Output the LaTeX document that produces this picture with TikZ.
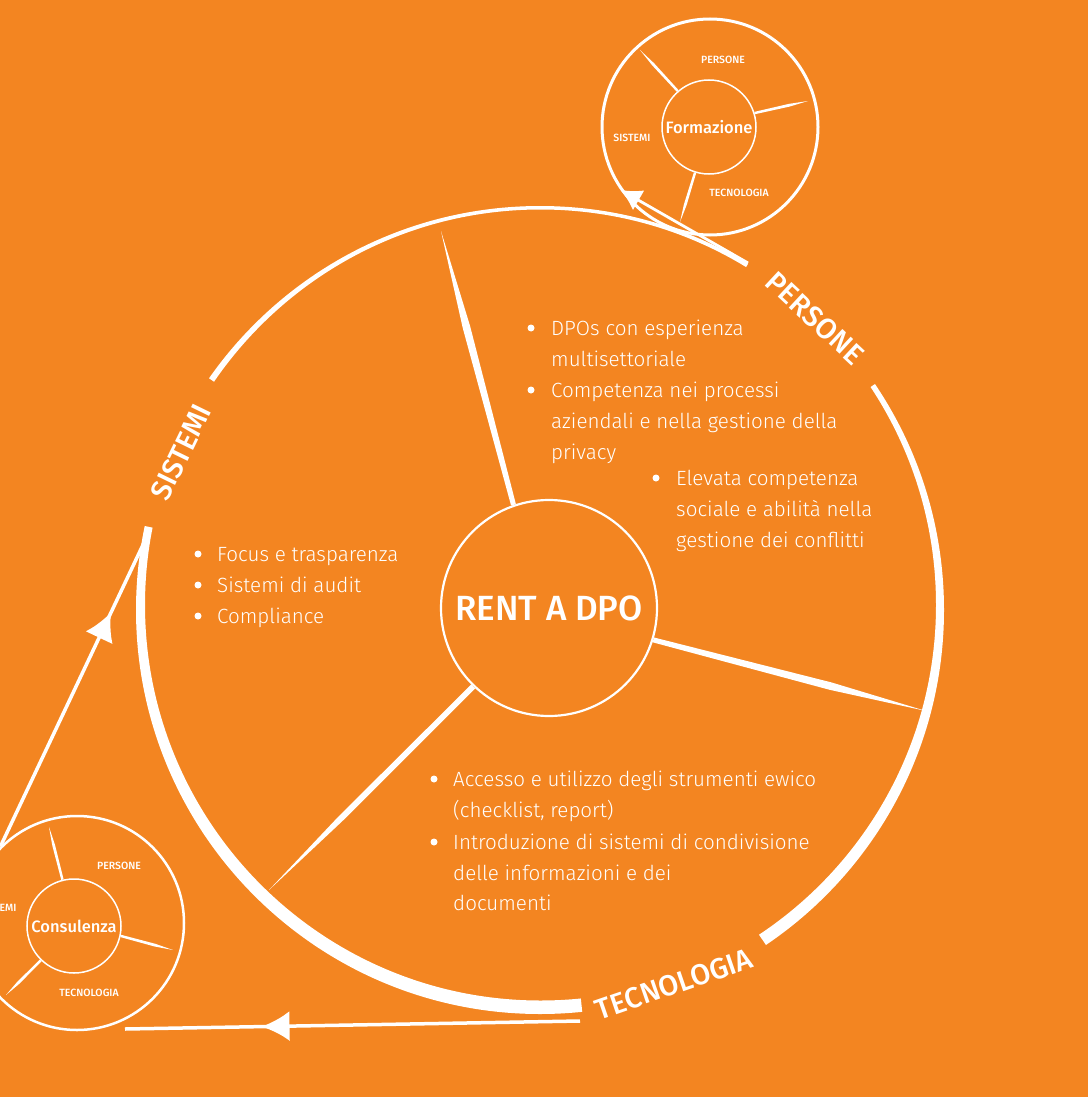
\documentclass[tikz,border=0pt]{standalone}
\usepackage{fontspec}
\setmainfont{Fira Sans}
\newfontfamily\lightfont{Fira Sans Light}
\newfontfamily\medfont{Fira Sans Medium}
\usetikzlibrary{calc,arrows.meta,decorations.markings}
\definecolor{bg}{HTML}{F38521}
\newcommand{\mytaper}[4]{%
  \coordinate (tpm) at ($(#1)!0.65!(#2)$);
  \fill[white] ($(#1)!#3!90:(#2)$) -- ($(tpm)!#4!90:(#2)$) -- (#2) -- ($(tpm)!#4!-90:(#2)$) -- ($(#1)!#3!-90:(#2)$) -- cycle;}
\begin{document}
\begin{tikzpicture}[x=1pt,y=-1pt,
  ring/.style={circle, draw=white, inner sep=0pt, text=white},
  arclabel/.style={text=white, font=\medfont\fontsize{29}{29}\selectfont, inner sep=0pt},
  smalllab/.style={text=white, font=\medfont\fontsize{10.5}{10.5}\selectfont, inner sep=0pt},
  body/.style={text=white, font=\lightfont\fontsize{20.6}{20.6}\selectfont, anchor=base west, inner sep=0pt},
  flow/.style={draw=white, line width=3.5pt},
  midarrow/.style={postaction=decorate, decoration={markings, mark=at position #1 with {\arrow{Latex[length=28pt,width=30pt]}}}}
]
\useasboundingbox (0,0) rectangle (1088,1097);
\clip (0,0) rectangle (1088,1097);
\fill[bg] (0,0) rectangle (1088,1097);

% main ring with three gaps
\begin{scope}[shift={(540,610)}]
  \clip (0,0) -- (84:700) -- (138:700) -- (192:700) -- cycle
        (0,0) -- (215:700) -- (258:700) -- (301:700) -- cycle
        (0,0) -- (326:700) -- (371:700) -- (416:700) -- cycle;
  \fill[white, even odd rule] (0,0) circle[radius=404] (0.5,-5) circle[radius=395.5];
\end{scope}

% ring labels
\node[arclabel, rotate=64] (lsis) at (181,452) {SISTEMI};
\node[arclabel, rotate=-43] (lper) at (815,318) {PERSONE};
\node[arclabel, rotate=19] (ltec) at (674,984) {TECNOLOGIA};

% centre
\node[ring, minimum size=216pt, line width=2.2pt, font=\medfont\fontsize{35}{35}\selectfont] (rent) at (549,608) {RENT A DPO};
\coordinate (s1) at (441,231);
\coordinate (s2) at (926,711);
\coordinate (s3) at (269,890);
\mytaper{rent.109}{s1}{2.5pt}{3.8pt}
\mytaper{rent.-17}{s2}{2.5pt}{3.8pt}
\mytaper{rent.-134}{s3}{2.8pt}{3pt}

% Formazione
\node[ring, minimum size=216pt, line width=3pt] (formO) at (710,127) {};
\node[ring, minimum size=94pt, line width=1.5pt, font=\medfont\fontsize{16.5}{16.5}\selectfont] (form) at (709,127) {Formazione};
\coordinate (f1) at (640,50);
\coordinate (f2) at (808,101);
\coordinate (f3) at (680,222);
\mytaper{form.131}{f1}{1.2pt}{1.4pt}
\mytaper{form.17}{f2}{1.2pt}{1.4pt}
\mytaper{form.-107}{f3}{1.2pt}{1.4pt}
\node[smalllab] (fper) at (723,60) {PERSONE};
\node[smalllab] (fsis) at (632,138) {SISTEMI};
\node[smalllab] (ftec) at (739,193) {TECNOLOGIA};

% Consulenza
\node[ring, minimum size=214pt, line width=2.5pt] (consO) at (77,923) {};
\node[ring, minimum size=94pt, line width=1.5pt, font=\medfont\fontsize{16.5}{16.5}\selectfont] (cons) at (74,926) {Consulenza};
\coordinate (c1) at (49,827);
\coordinate (c2) at (173,950);
\coordinate (c3) at (6,995);
\mytaper{cons.104}{c1}{1.2pt}{1.4pt}
\mytaper{cons.-12}{c2}{1.2pt}{1.4pt}
\mytaper{cons.-134}{c3}{1.2pt}{1.4pt}
\node[smalllab] (cper) at (119,866) {PERSONE};
\node[smalllab] (csis) at (-2,908) {SISTEMI};
\node[smalllab] (ctec) at (89,993) {TECNOLOGIA};

% flow arrows
\coordinate (sisA) at (150,530);
\coordinate (tecA) at (580,1021);
\coordinate (bEnd) at (125,1029);
\coordinate (perA) at (748,263);
\draw[flow, midarrow=0.74] (consO.135) -- (sisA);
\draw[flow, midarrow=0.70] (tecA) -- (bEnd);
\draw[draw=white, line width=2.8pt, -{Latex[length=21pt,width=23pt]}] (perA) -- (formO.-145);

% bullets
\foreach \bx/\by in {531/328, 531/390, 656/478, 198/554, 198/585, 198/616, 434/779, 434/842}
  \fill[white] (\bx,\by) circle[radius=3.5];

% texts
\node[body] (p1) at (551,335) {DPOs con esperienza};
\node[body] (p2) at (551,366) {multisettoriale};
\node[body] (p3) at (551,397) {Competenza nei processi};
\node[body] (p4) at (551,428) {aziendali e nella gestione della};
\node[body] (p5) at (551,459) {privacy};
\node[body] (q1) at (676,485) {Elevata competenza};
\node[body] (q2) at (676,516) {sociale e abilità nella};
\node[body] (q3) at (676,547) {gestione dei conflitti};
\node[body] (l1) at (217,561) {Focus e trasparenza};
\node[body] (l2) at (217,592) {Sistemi di audit};
\node[body] (l3) at (217,623) {Compliance};
\node[body] (b1) at (453,786) {Accesso e utilizzo degli strumenti ewico};
\node[body] (b2) at (453,817) {(checklist, report)};
\node[body] (b3) at (453,849) {Introduzione di sistemi di condivisione};
\node[body] (b4) at (453,880) {delle informazioni e dei};
\node[body] (b5) at (453,910) {documenti};
\end{tikzpicture}
\end{document}
